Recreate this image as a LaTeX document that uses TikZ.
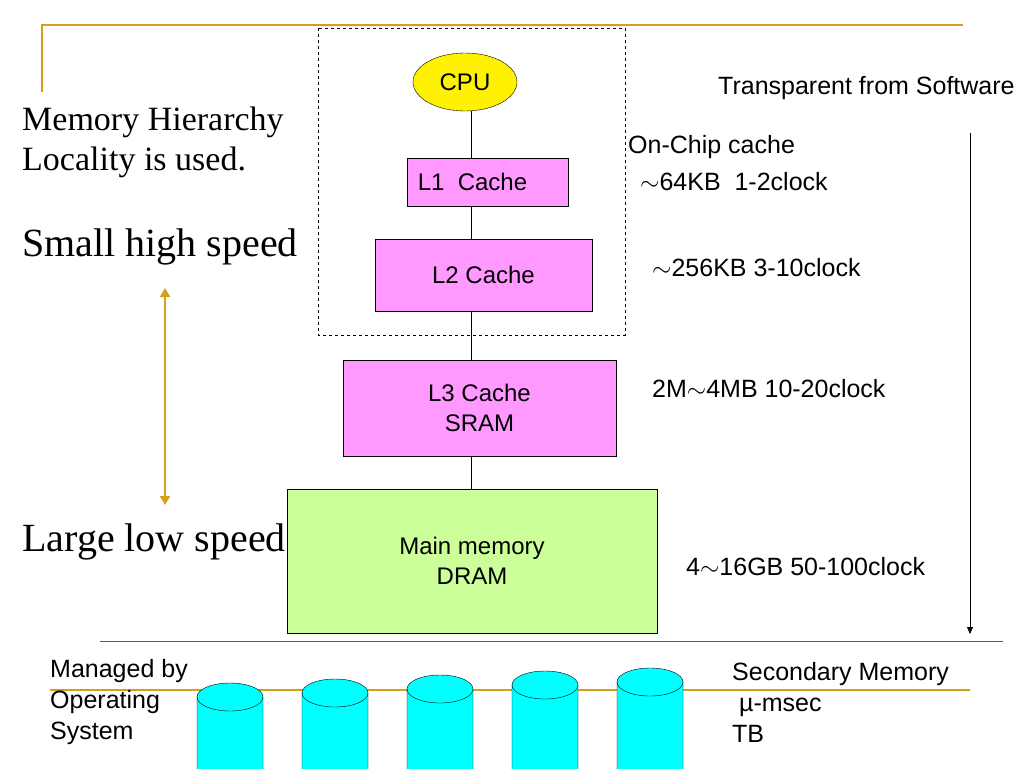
\documentclass[tikz,border=0pt]{standalone}
\usepackage{fontspec}
\setmainfont{Liberation Serif}
\newfontfamily\arialf{Liberation Sans}
\usetikzlibrary{shapes.geometric,arrows.meta}
\definecolor{gold}{HTML}{D4A017}
\definecolor{pinkbox}{HTML}{FF99FF}
\definecolor{greenbox}{HTML}{CCFF99}
\definecolor{diskc}{HTML}{00FFFF}
\tikzset{
  lvl/.style={draw, fill=pinkbox, font=\arialf\fontsize{24}{30}\selectfont, align=center, inner sep=0pt},
  sans/.style={font=\arialf\fontsize{25}{31}\selectfont, anchor=west, align=left, inner sep=0pt},
  serif/.style={font=\fontsize{34}{40}\selectfont, anchor=west, align=left, inner sep=0pt}
}
\begin{document}
\begin{tikzpicture}[x=1pt, y=-1pt]
  \useasboundingbox (0,0) rectangle (1024,768);
  % frame lines
  \draw[gold, line width=1.5pt] (42,92) -- (42,25) -- (963,25);
  \draw[gray!70!black, line width=1pt] (100,641) -- (1003,641);
  \draw[gold, line width=1.5pt] (50,690) -- (970,690);
  \draw[dashed] (318,28) rectangle (625,335);
  % hierarchy
  \node (cpu) [ellipse, draw, fill=yellow, minimum width=104pt, minimum height=58pt, font=\arialf\fontsize{24}{30}\selectfont] at (465,82) {CPU};
  \node (l1) [lvl, minimum width=161pt, minimum height=48pt] at (487.5,182) {\hspace*{-30pt}L1\ \ Cache};
  \node (l2) [lvl, minimum width=217pt, minimum height=72pt] at (483.5,275) {L2 Cache};
  \node (l3) [lvl, minimum width=273pt, minimum height=96pt] at (479.5,408) {L3 Cache\\SRAM};
  \node (mm) [lvl, fill=greenbox, minimum width=370pt, minimum height=144pt] at (472,561) {Main memory\\DRAM};
  \draw (471,111) -- (471,158);
  \draw (l1.south -| 471,0) -- (l2.north -| 471,0);
  \draw (l2.south -| 471,0) -- (l3.north -| 471,0);
  \draw (l3.south -| 471,0) -- (mm.north -| 471,0);
  % left texts
  \node (mh) [serif] at (22,142) {Memory Hierarchy\\Locality is used.};
  \node (shs) [serif, font=\fontsize{40}{44}\selectfont] at (22,247) {Small high speed};
  \node (lls) [serif, font=\fontsize{40}{44}\selectfont] at (22,542) {Large low speed};
  \coordinate (up) at (165,288);
  \coordinate (dn) at (165,505);
  \draw[gold, line width=2.5pt, {Triangle[length=9pt,width=10pt]}-{Triangle[length=9pt,width=10pt]}] (up) -- (dn);
  % right texts
  \node (tfs) [sans] at (718,88) {Transparent from Software};
  \node (occ) [sans] at (628,147) {On-Chip cache};
  \node (c1) [sans] at (640,182) {$\sim$64KB\ \ 1-2clock};
  \node (c2) [sans] at (652,268) {$\sim$256KB 3-10clock};
  \node (c3) [sans] at (652,389) {2M$\sim$4MB 10-20clock};
  \node (c4) [sans] at (686,567) {4$\sim$16GB 50-100clock};
  \coordinate (ts) at (970,133);
  \coordinate (te) at (970,634);
  \draw[-{Triangle[length=7pt,width=6pt]}] (ts) -- (te);
  % secondary memory
  \node (os) [sans] at (50,702) {Managed by\\Operating\\System};
  \node (sm) [sans] at (732,702) {Secondary Memory\\\ \textmu-msec\\TB};
  \foreach \x/\y in {230/683,335/679,440/675,545/671,650/668} {
    \filldraw[fill=diskc] (\x-33,\y+14) -- (\x-33,800) -- (\x+33,800) -- (\x+33,\y+14)
      arc[start angle=0, end angle=180, x radius=33, y radius=-14] -- cycle;
    \draw (\x-33,\y+14) arc[start angle=180, end angle=360, x radius=33, y radius=-14];
  }
\end{tikzpicture}
\end{document}
